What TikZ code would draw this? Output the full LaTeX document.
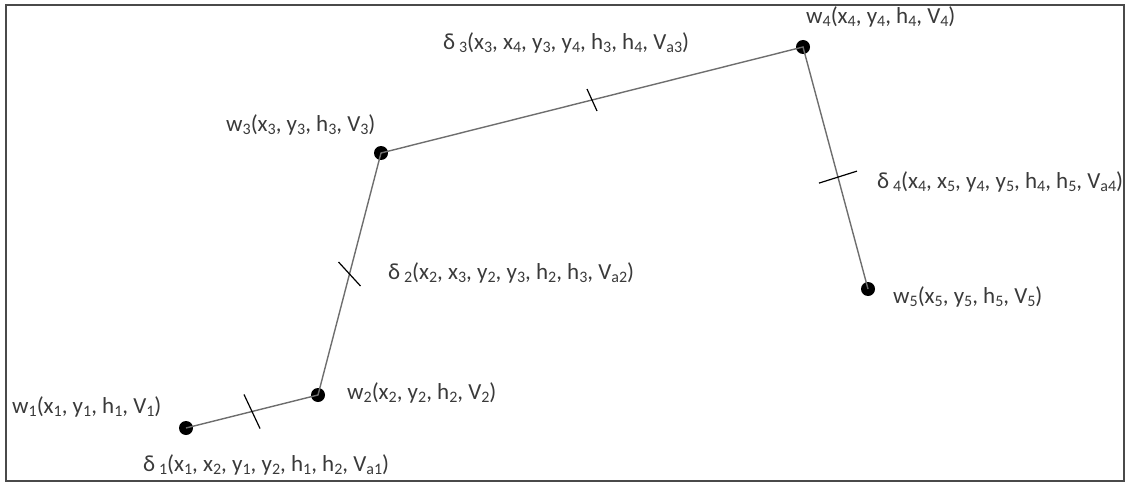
\documentclass[tikz,border=0pt]{standalone}
\usepackage{fontspec}
\setmainfont{Carlito}
\usepackage{xcolor}
\definecolor{pathgrey}{HTML}{6E6E6E}
\definecolor{framegrey}{HTML}{4A4A4A}
\definecolor{textgrey}{HTML}{3A3A3A}
\newcommand{\ix}[1]{\raisebox{-0.12em}{\fontsize{16}{16}\selectfont #1}}

\begin{document}
\begin{tikzpicture}[x=1pt, y=-1pt,
    waypoint/.style={circle, fill=black, inner sep=0pt, minimum size=14pt},
    leg/.style={draw=pathgrey, line width=1.4pt},
    tickmark/.style={draw=black, line width=1.2pt},
    lbl/.style={anchor=west, inner sep=0pt, text=textgrey, font=\fontsize{23}{27}\selectfont}]
  \useasboundingbox (0,0) rectangle (1129,484);
  \draw[framegrey, line width=2.2pt] (6,5) rectangle (1124,481);

  \node[waypoint] (w1) at (186,428) {};
  \node[waypoint] (w2) at (318,395) {};
  \node[waypoint] (w3) at (381,153) {};
  \node[waypoint] (w4) at (803,47) {};
  \node[waypoint] (w5) at (868,289) {};

  \draw[leg] (w1.center) -- (w2.center) -- (w3.center) -- (w4.center) -- (w5.center);

  % tick marks on each leg
  \path (w1) -- (w2) coordinate[pos=0.5] (t1);
  \path (w2) -- (w3) coordinate[pos=0.5] (t2);
  \path (w3) -- (w4) coordinate[pos=0.5] (t3);
  \path (w4) -- (w5) coordinate[pos=0.54] (t4);
  \draw[tickmark] ([shift={(-8,-17)}]t1) -- ([shift={(8,17)}]t1);
  \draw[tickmark] ([shift={(-11,-12)}]t2) -- ([shift={(11,12)}]t2);
  \draw[tickmark] ([shift={(-5,-11)}]t3) -- ([shift={(5,11)}]t3);
  \draw[tickmark] ([shift={(-19,6)}]t4) -- ([shift={(19,-6)}]t4);

  \node[lbl] (l1) at (12,407) {w\ix{1}(x\ix{1}, y\ix{1}, h\ix{1}, V\ix{1})};
  \node[lbl] (l2) at (347,393) {w\ix{2}(x\ix{2}, y\ix{2}, h\ix{2}, V\ix{2})};
  \node[lbl] (l3) at (226,125) {w\ix{3}(x\ix{3}, y\ix{3}, h\ix{3}, V\ix{3})};
  \node[lbl] (l4) at (806,17) {w\ix{4}(x\ix{4}, y\ix{4}, h\ix{4}, V\ix{4})};
  \node[lbl] (l5) at (893,297) {w\ix{5}(x\ix{5}, y\ix{5}, h\ix{5}, V\ix{5})};

  \node[lbl] (d1) at (143,465) {δ\,\ix{1}(x\ix{1}, x\ix{2}, y\ix{1}, y\ix{2}, h\ix{1}, h\ix{2}, V\ix{a1})};
  \node[lbl] (d2) at (388,273) {δ\,\ix{2}(x\ix{2}, x\ix{3}, y\ix{2}, y\ix{3}, h\ix{2}, h\ix{3}, V\ix{a2})};
  \node[lbl] (d3) at (443,43) {δ\,\ix{3}(x\ix{3}, x\ix{4}, y\ix{3}, y\ix{4}, h\ix{3}, h\ix{4}, V\ix{a3})};
  \node[lbl] (d4) at (877,182) {δ\,\ix{4}(x\ix{4}, x\ix{5}, y\ix{4}, y\ix{5}, h\ix{4}, h\ix{5}, V\ix{a4})};
\end{tikzpicture}
\end{document}
